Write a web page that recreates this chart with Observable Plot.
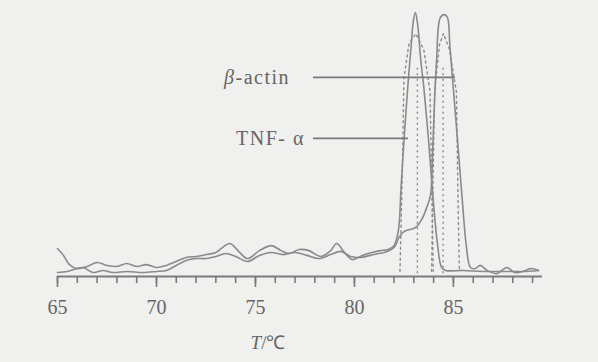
<!DOCTYPE html>
<html>
<head>
<meta charset="utf-8">
<script src="https://cdn.jsdelivr.net/npm/d3@7"></script>
<script src="https://cdn.jsdelivr.net/npm/@observablehq/plot@0.6"></script>
<style>
  html, body { margin: 0; padding: 0; background: #f0f0ee; }
  #chart svg { display: block; }
</style>
</head>
<body>
<div id="chart"></div>
<script>
// Melting curves: [temperature °C, relative -dF/dT]
const tnfCurve = [
  [65.0,10.6],[65.3,8.0],[65.6,4.5],[66.0,3.0],[66.5,3.8],[67.0,5.3],[67.5,4.2],[68.0,3.8],
  [68.5,4.9],[69.0,3.8],[69.5,4.5],[70.0,3.4],[70.5,4.2],[71.0,5.7],[71.5,7.2],[72.0,7.6],
  [72.5,8.3],[73.0,9.1],[73.7,12.5],[74.2,9.1],[74.6,6.8],[75.2,9.8],[75.8,11.7],[76.3,9.8],
  [76.7,8.7],[77.2,10.2],[77.7,9.8],[78.3,7.6],[78.8,9.8],[79.1,12.5],[79.5,9.1],[79.9,6.4],
  [80.4,8.0],[80.9,9.1],[81.3,9.8],[81.7,10.2],[82.0,11.7],[82.22,17.4],[82.35,33],[82.47,47.7],
  [82.6,62],[82.73,75.4],[82.86,87],[82.98,97],[83.08,100],[83.2,95],[83.35,82],[83.5,72],
  [83.74,52],[83.99,28],[84.2,12],[84.4,3.5],[84.6,2.3],[85.5,2.3],[86.5,1.9],[87.5,1.9],
  [88.5,1.9],[89.3,2.3]
];
const actinCurve = [
  [65.0,1.5],[65.5,1.9],[66.0,3.0],[66.3,3.4],[66.8,1.5],[67.3,2.3],[67.8,1.5],[68.5,1.9],
  [69.3,1.5],[70.0,1.9],[70.5,2.3],[71.0,4.2],[71.5,6.1],[72.0,6.8],[72.5,6.8],[73.0,7.6],
  [73.5,8.7],[74.0,7.6],[74.6,5.7],[75.2,8.0],[75.8,9.1],[76.4,8.3],[77.0,9.1],[77.6,8.0],
  [78.2,6.8],[78.8,8.3],[79.3,9.5],[79.8,7.6],[80.3,7.2],[80.8,8.0],[81.2,8.7],[81.5,9.1],
  [82.0,11.0],[82.25,14.8],[82.5,17.0],[82.8,17.8],[83.1,18.6],[83.4,21.6],[83.65,26.1],
  [83.84,30.7],[83.95,47.7],[84.05,66.7],[84.15,81.8],[84.34,98.1],[84.55,99.2],[84.7,98.1],
  [84.82,87.5],[84.95,75.4],[85.2,52.3],[85.45,28.8],[85.65,11.7],[85.86,3.4],[86.1,3.0],
  [86.36,4.2],[86.7,2.3],[87.2,1.1],[87.7,3.4],[88.1,1.5],[88.5,1.9],[88.9,3.0],[89.3,2.3]
];
// Replicate curves (dotted), nearly vertical flanks
const tnfReplicate = [
  [82.3,2],[82.42,40],[82.5,75],[82.75,88],[83.1,92],[83.5,86],[83.82,70],[83.9,35],[83.98,2]
];
const actinReplicate = [
  [83.9,2],[83.98,40],[84.05,70],[84.3,88],[84.5,92],[84.8,86],[85.15,70],[85.22,35],[85.3,2]
];
const meltPeaks = [83.18, 84.48];

const seriesLabels = [
  {name: "β-actin", x1: 77.93, x2: 85.1, y: 75.4, tx: 76.75},
  {name: "TNF- α", x1: 77.93, x2: 82.73, y: 52.3, tx: 77.5}
];

const tickLabels = [65, 70, 75, 80, 85];
const minorTicks = d3.range(65, 90, 1);
const axisTitle = {italic: "T", rest: "/℃", x: 75.66};

const grey = "#8a8a8a";
const dark = "#7a7a7a";
const serif = "'Liberation Serif', 'Times New Roman', serif";

const chart = Plot.plot({
  width: 598,
  height: 362,
  marginLeft: 57,
  marginRight: 56,
  marginTop: 12,
  marginBottom: 86,
  style: {background: "transparent", fontFamily: serif},
  x: {domain: [65, 89.5]},
  y: {domain: [0, 100], axis: null},
  marks: [
    Plot.ruleX(meltPeaks, {x: d => d, y1: 1, y2: 80, stroke: grey, strokeDasharray: "2,3.5", strokeWidth: 1.4}),
    Plot.line(tnfReplicate, {x: d => d[0], y: d => d[1], stroke: grey, strokeDasharray: "2,3.5", strokeWidth: 1.4}),
    Plot.line(actinReplicate, {x: d => d[0], y: d => d[1], stroke: grey, strokeDasharray: "2,3.5", strokeWidth: 1.4}),
    Plot.line(actinCurve, {x: d => d[0], y: d => d[1], stroke: grey, strokeWidth: 1.6, curve: "catmull-rom"}),
    Plot.line(tnfCurve, {x: d => d[0], y: d => d[1], stroke: grey, strokeWidth: 1.6, curve: "catmull-rom"}),
    Plot.ruleY(seriesLabels, {y: "y", x1: "x1", x2: "x2", stroke: dark, strokeWidth: 1.7}),
    Plot.text(seriesLabels, {x: "tx", y: "y", text: "name", textAnchor: "end", fontSize: 20, fill: "#666", className: "series-label"}),
    Plot.ruleY([0], {x1: 65, x2: 89.5, stroke: dark, strokeWidth: 2.2}),
    Plot.axisX({ticks: minorTicks, tickSize: 7, tickFormat: () => "", stroke: dark, strokeWidth: 1.6}),
    Plot.axisX({ticks: tickLabels, tickSize: 11, tickPadding: 12, fontSize: 20, stroke: dark, strokeWidth: 1.6, color: "#666", label: null})
  ]
});

document.getElementById("chart").appendChild(chart);

const svg = d3.select(chart);
svg.selectAll(".series-label text").attr("letter-spacing", "1.5px");
// italic beta in the label
svg.selectAll("text").filter(function() { return this.textContent === "β-actin"; })
  .each(function() {
    const el = d3.select(this);
    el.text(null);
    el.append("tspan").attr("font-style", "italic").text("β");
    el.append("tspan").text("-actin");
  });

// Axis title with italic T
const xs = chart.scale("x");
const t = svg.append("text")
  .attr("x", xs.apply(axisTitle.x))
  .attr("y", 349)
  .attr("text-anchor", "middle")
  .attr("font-size", 19)
  .attr("fill", "#666")
  .attr("font-family", serif);
t.append("tspan").attr("font-style", "italic").text(axisTitle.italic);
t.append("tspan").text(axisTitle.rest);
</script>
</body>
</html>
